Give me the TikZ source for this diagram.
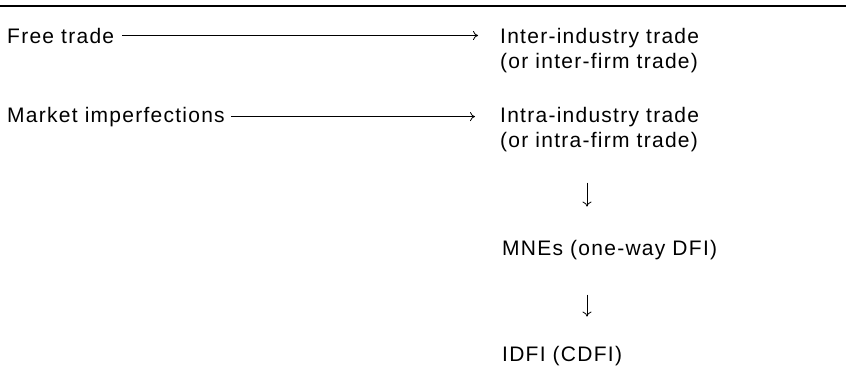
\documentclass[tikz,border=0pt]{standalone}
\usepackage{fontspec}
\setmainfont[LetterSpace=6]{Liberation Sans}
\usetikzlibrary{arrows,arrows.meta}

\begin{document}
\begin{tikzpicture}[x=1pt,y=-1pt,
    txt/.style={anchor=base west,inner sep=0pt,align=left,
      font=\fontsize{21}{25}\selectfont},
    flow/.style={thick,->,>={To[length=5pt,width=9pt]}}]
    \useasboundingbox (0,0) rectangle (846,376);
    \draw[line width=1.2pt] (0,6) -- (846,6);

    % base of a two-line node is its last line
    \node[txt] (free) at (7,43) {Free trade};
    \node[txt] (market) at (7,122) {Market imperfections};
    \node[txt] (inter) at (500,68) {Inter-industry trade\\(or inter-firm trade)};
    \node[txt] (intra) at (500,147) {Intra-industry trade\\(or intra-firm trade)};
    \node[txt] (mne) at (502,255) {MNEs (one-way DFI)};
    \node[txt] (idfi) at (502,361) {IDFI (CDFI)};

    \draw[flow,shorten <=8pt,shorten >=22pt] (free.east) -- (free.east -| inter.west);
    \draw[flow,shorten <=6pt,shorten >=25pt] (market.east) -- (market.east -| intra.west);
    \draw[flow,shorten <=31pt,shorten >=33pt] ([xshift=87pt]intra.south west) -- ([xshift=85pt]mne.north west);
    \draw[flow,shorten <=35pt,shorten >=29pt] ([xshift=85pt]mne.south west) -- ([xshift=85pt]idfi.north west);
  \end{tikzpicture}
\end{document}
